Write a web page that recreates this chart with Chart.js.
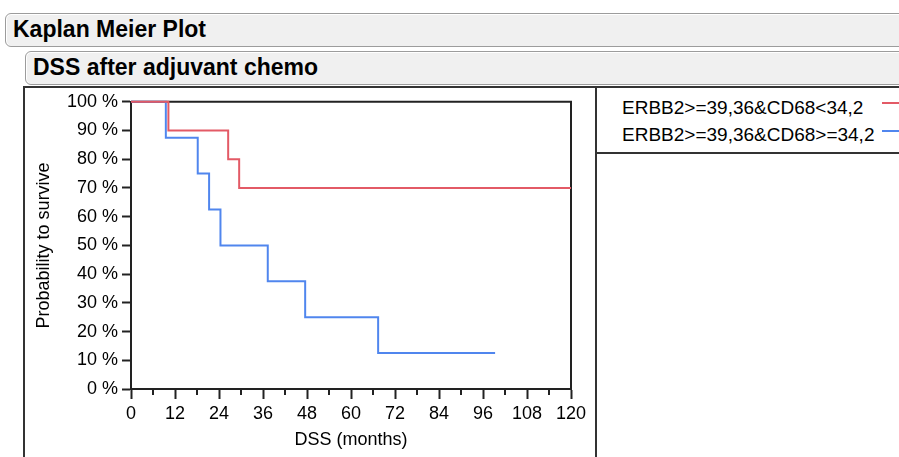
<!DOCTYPE html>
<html>
<head>
<meta charset="utf-8">
<script src="https://cdn.jsdelivr.net/npm/chart.js@4"></script>
<style>
  body { margin: 0; width: 899px; height: 457px; overflow: hidden; background: #fff;
         font-family: "Liberation Sans", Arial, sans-serif; position: relative; }
  .hdr { position: absolute; background: #f0f0f0; border: 1px solid #9c9c9c; border-radius: 6px;
         box-shadow: inset 0 1px 0 #fff, inset 1px 0 0 #fff; font-weight: bold; font-size: 23px;
         line-height: 31px; color: #000; box-sizing: border-box; }
  #h1 { left: 5px; top: 13px; width: 910px; height: 34px; padding-left: 7px; }
  #h2 { left: 25px; top: 51px; width: 890px; height: 34px; padding-left: 7px; }
  #frame { position: absolute; left: 23px; top: 86px; width: 900px; height: 400px;
           border-left: 2px solid #333; border-top: 2px solid #333; }
  #divider { position: absolute; left: 595px; top: 86px; width: 2px; height: 380px; background: #333; }
  #legline { position: absolute; left: 595px; top: 152px; width: 310px; height: 2px; background: #333; }
  .leg { position: absolute; left: 622px; font-size: 19px; color: #000; white-space: nowrap; }
  .swatch { position: absolute; left: 882px; width: 30px; height: 2px; }
  #wrap { position: absolute; left: 24px; top: 87px; width: 571px; height: 370px; }
</style>
</head>
<body>
<div class="hdr" id="h1">Kaplan Meier Plot</div>
<div class="hdr" id="h2">DSS after adjuvant chemo</div>
<div id="frame"></div>
<div id="divider"></div>
<div id="legline"></div>
<div class="leg" id="leg1" style="top:97px">ERBB2&gt;=39,36&amp;CD68&lt;34,2</div>
<div class="leg" id="leg2" style="top:124px">ERBB2&gt;=39,36&amp;CD68&gt;=34,2</div>
<div class="swatch" id="sw1" style="top:102px"></div>
<div class="swatch" id="sw2" style="top:130px"></div>
<div id="wrap"><canvas id="km"></canvas></div>
<script>
// survival curves (months, percent surviving)
var groupNames = ['ERBB2>=39,36&CD68<34,2', 'ERBB2>=39,36&CD68>=34,2'];
var redTimes = [0, 10.2, 26.5, 29.5, 120];
var redSurv  = [100, 90, 80, 70, 70];
var blueTimes = [0, 9.5, 18.2, 21.3, 24.4, 37.3, 47.5, 67.4, 99.3];
var blueSurv  = [100, 87.5, 75, 62.5, 50, 37.5, 25, 12.5, 12.5];
var xTicks = [0, 12, 24, 36, 48, 60, 72, 84, 96, 108, 120];
var yTicks = [0, 10, 20, 30, 40, 50, 60, 70, 80, 90, 100];

var redColor = '#e35a66';
var blueColor = '#5086ee';
document.getElementById('sw1').style.background = redColor;
document.getElementById('sw2').style.background = blueColor;

function toPoints(t, s) {
  var pts = [];
  for (var i = 0; i < t.length; i++) pts.push({ x: t[i], y: s[i] });
  return pts;
}

// box around plot + minor ticks on the x axis
var framePlugin = {
  id: 'frame',
  beforeDatasetsDraw: function (chart) {
    var a = chart.chartArea, ctx = chart.ctx;
    ctx.save();
    ctx.strokeStyle = '#222';
    ctx.lineWidth = 2;
    ctx.beginPath();
    ctx.moveTo(a.left, a.top);
    ctx.lineTo(a.right, a.top);
    ctx.lineTo(a.right, a.bottom);
    ctx.stroke();
    var xs = chart.scales.x;
    ctx.beginPath();
    for (var i = 0; i < xTicks.length - 1; i++) {
      var px = xs.getPixelForValue((xTicks[i] + xTicks[i + 1]) / 2);
      ctx.moveTo(px, a.bottom);
      ctx.lineTo(px, a.bottom + 6);
    }
    ctx.stroke();
    ctx.restore();
  }
};

var tickFont = { family: '"Liberation Sans", Arial, sans-serif', size: 18 };

new Chart(document.getElementById('km'), {
  type: 'line',
  data: {
    datasets: [
      { label: groupNames[0], data: toPoints(redTimes, redSurv), borderColor: redColor,
        borderWidth: 2, stepped: 'before', pointRadius: 0, fill: false, clip: 4 },
      { label: groupNames[1], data: toPoints(blueTimes, blueSurv), borderColor: blueColor,
        borderWidth: 2, stepped: 'before', pointRadius: 0, fill: false, clip: 4 }
    ]
  },
  options: {
    responsive: true,
    maintainAspectRatio: false,
    animation: false,
    layout: { padding: { top: 14, right: 24, left: 0, bottom: 0 } },
    plugins: { legend: { display: false }, tooltip: { enabled: false } },
    scales: {
      x: {
        type: 'linear', min: 0, max: 120,
        afterFit: function (s) { s.height = 68; },
        afterBuildTicks: function (s) { s.ticks = xTicks.map(function (v) { return { value: v }; }); },
        ticks: { font: tickFont, color: '#000', padding: 4, maxRotation: 0, autoSkip: false },
        grid: { drawOnChartArea: false, drawTicks: true, tickLength: 10, tickWidth: 2, color: '#222' },
        border: { display: true, color: '#222', width: 2 },
        title: { display: true, text: 'DSS (months)', font: tickFont, color: '#000', padding: { top: 0, bottom: 6 } }
      },
      y: {
        min: 0, max: 100,
        afterFit: function (s) { s.width = 107; },
        afterBuildTicks: function (s) { s.ticks = yTicks.map(function (v) { return { value: v }; }); },
        ticks: { font: tickFont, color: '#000', padding: 4, autoSkip: false,
                 callback: function (v) { return v + ' %'; } },
        grid: { drawOnChartArea: false, drawTicks: true, tickLength: 9, tickWidth: 2, color: '#222' },
        border: { display: true, color: '#222', width: 2 },
        title: { display: true, text: 'Probability to survive', font: tickFont, color: '#000', padding: { top: 9, bottom: 0 } }
      }
    }
  },
  plugins: [framePlugin]
});
</script>
</body>
</html>
